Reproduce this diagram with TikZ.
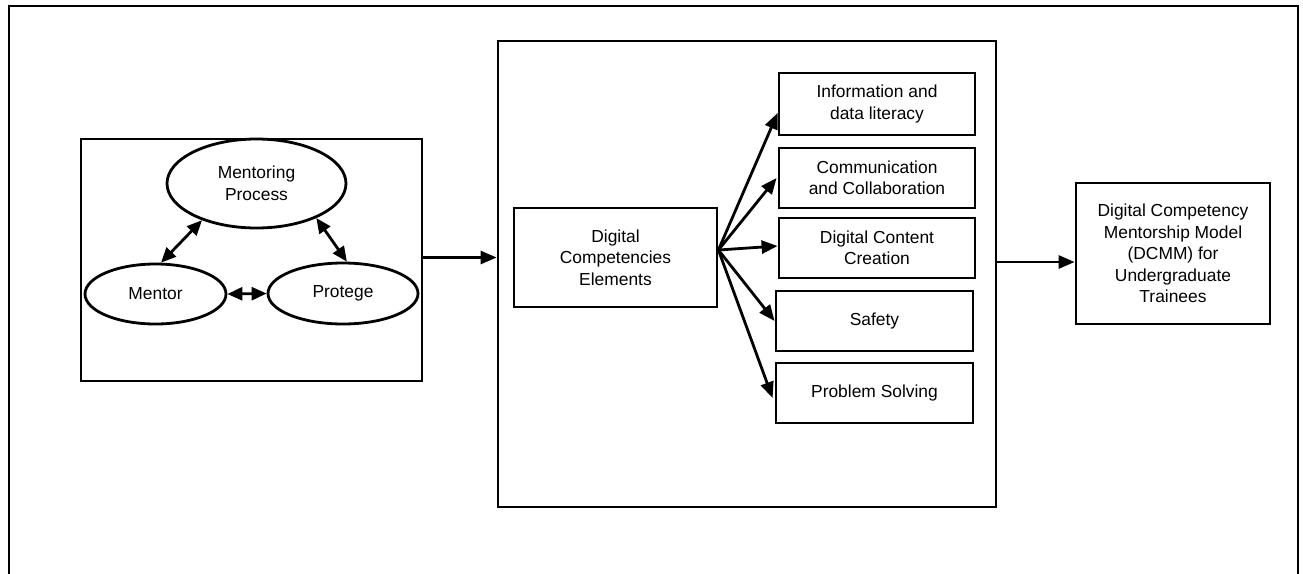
\documentclass[tikz,border=0pt]{standalone}
\usepackage{fontspec}
\setmainfont{Liberation Sans}
\usetikzlibrary{shapes.geometric,arrows.meta,calc}
\begin{document}
\begin{tikzpicture}[x=1pt,y=-1pt,
  line width=2.8pt,
  txt/.style={font=\fontsize{17.4}{21.5}\selectfont,align=center,inner sep=0pt},
  box/.style={txt,draw,rectangle,minimum width=#1},
  oval/.style={txt,draw,ellipse},
  arr/.style={-{Triangle[length=16pt,width=13pt]}},
  darr/.style={{Triangle[length=15pt,width=13pt]}-{Triangle[length=15pt,width=13pt]}}
]
\useasboundingbox (0,0) rectangle (1303,573);
\clip (0,0) rectangle (1303,573);
\fill[white] (0,0) rectangle (1303,573);

% outer frame (runs past the lower edge)
\draw (9,6) rectangle (1298,620);

% mentoring triad
\node[box=341pt,minimum height=242pt] (leftbox) at (251.5,260) {};
\node[oval,minimum width=179pt,minimum height=89pt] (mp) at (256.5,183.5) {Mentoring\\Process};
\node[oval,minimum width=141pt,minimum height=60pt] (mentor) at (155.5,294) {Mentor};
\node[oval,minimum width=150pt,minimum height=61pt] (protege) at (343,293.5) {Protege};

\draw[darr] (mp.214.8) -- (mentor.80);
\draw[darr] (mp.330) -- (protege.83);
\draw[darr] (mentor.east) -- (protege.west);

% competencies block
\node[box=498pt,minimum height=466pt] (midbox) at (747,274) {};
\node[box=203pt,minimum height=99pt] (dce) at (615.5,257.5) {Digital\\Competencies\\Elements};
\node[box=196pt,minimum height=62pt] (info) at (877,104) {Information and\\data literacy};
\node[box=196pt,minimum height=60pt] (comm) at (877,178) {Communication\\and Collaboration};
\node[box=196pt,minimum height=60pt] (dcc) at (877,248) {Digital Content\\Creation};
\node[box=197pt,minimum height=60pt] (safety) at (874.5,321) {Safety};
\node[box=197pt,minimum height=60pt] (problem) at (874.5,393) {Problem Solving};

\coordinate (fan) at ([yshift=7.5pt]dce.east);
\draw[arr] (fan) -- ([yshift=-9pt]info.west);
\draw[arr] (fan) -- ([xshift=-1pt]comm.west);
\draw[arr] (fan) -- ([yshift=2pt]dcc.west);
\draw[arr] (fan) -- (safety.west);
\draw[arr] (fan) -- ([xshift=-2pt,yshift=-5pt]problem.west);

\draw[arr] (leftbox.east |- dce) -- (midbox.west |- dce);

% resulting model
\node[box=194pt,minimum height=141pt] (dcmm) at (1173,253.5) {Digital Competency\\Mentorship Model\\(DCMM) for\\Undergraduate\\Trainees};
\coordinate (dcmmin) at ([yshift=-8.5pt]dcmm.west);
\draw[arr] (midbox.east |- dcmmin) -- (dcmmin);
\end{tikzpicture}
\end{document}
